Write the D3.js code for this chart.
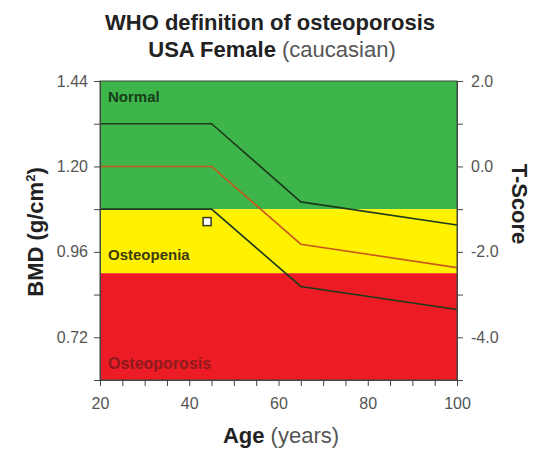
<!DOCTYPE html>
<html lang="en">
<head>
<meta charset="UTF-8">
<title>WHO definition of osteoporosis</title>
<script src="https://d3js.org/d3.v7.min.js"></script>
<style>
  body { margin: 0; background: #fff; }
  svg { display: block; font-family: "Liberation Sans", Arial, sans-serif; }
</style>
</head>
<body>
<div class="chartContainer"></div>
<script>
// Data
const ages = [20, 45, 65, 100];
const meanT = [0, 0, -1.82, -2.37];
const plusOneT = [1, 1, -0.83, -1.37];
const minusOneT = [-1, -1, -2.81, -3.35];

const zoneNames = ['Normal', 'Osteopenia', 'Osteoporosis'];
const zoneTop = [2, -1, -2.5];
const zoneBottom = [-1, -2.5, -5];
const zoneColors = ['#3db54a', '#fff200', '#ed1c24'];
const zoneTextColors = ['#173d19', '#3d3a10', '#8e1a1e'];

const patientAge = [44];
const patientBMD = [1.045];

const bmdTicks = [0.72, 0.96, 1.20, 1.44];
const bmdMinor = [0.60, 0.84, 1.08, 1.32];
const tTicks = [-4, -2, 0, 2];
const tMinor = [-5, -3, -1, 1];
const ageTicks = [20, 40, 60, 80, 100];

const width = 546, height = 451;
const plot = { left: 100, right: 457, top: 81, bottom: 380 };

const svg = d3.select('.chartContainer').append('svg')
  .attr('width', width).attr('height', height);

// 比例尺
const x = d3.scaleLinear().domain([20, 100]).range([plot.left, plot.right]);
const yT = d3.scaleLinear().domain([-5, 2]).range([plot.bottom, plot.top]);
const yBMD = d3.scaleLinear().domain([0.60, 1.44]).range([plot.bottom, plot.top]);

// 區塊
const zones = zoneNames.map((n, i) => ({ name: n, top: zoneTop[i], bottom: zoneBottom[i], color: zoneColors[i], text: zoneTextColors[i] }));
svg.append('g').selectAll('rect').data(zones).enter().append('rect')
  .attr('x', plot.left)
  .attr('width', plot.right - plot.left)
  .attr('y', d => yT(d.top))
  .attr('height', d => yT(d.bottom) - yT(d.top))
  .attr('fill', d => d.color);

const labelY = [102, 260, 369];
const labelSize = ['15px', '15px', '16px'];
svg.append('g').selectAll('text').data(zones).enter().append('text')
  .attr('x', plot.left + 8)
  .attr('y', (d, i) => labelY[i])
  .attr('fill', d => d.text)
  .style('font-weight', 'bold')
  .style('font-size', (d, i) => labelSize[i])
  .text(d => d.name);

// 線條
const line = d3.line().x(d => x(d[0])).y(d => yT(d[1]));
const series = [
  { vals: plusOneT, color: '#1e3a1c' },
  { vals: meanT, color: '#c8581c' },
  { vals: minusOneT, color: '#1e3a1c' }
];
svg.append('g').selectAll('path').data(series).enter().append('path')
  .attr('d', d => line(ages.map((a, i) => [a, d.vals[i]])))
  .attr('fill', 'none')
  .attr('stroke', d => d.color)
  .attr('stroke-width', 1.6);

// 病人
svg.selectAll('.patient').data(patientAge.map((a, i) => [a, patientBMD[i]])).enter()
  .append('rect').attr('class', 'patient')
  .attr('x', d => x(d[0]) - 4).attr('y', d => yBMD(d[1]) - 4)
  .attr('width', 8).attr('height', 8)
  .attr('fill', '#fff').attr('stroke', '#3a3a20').attr('stroke-width', 1.5);

// 外框
svg.append('rect')
  .attr('x', plot.left).attr('y', plot.top)
  .attr('width', plot.right - plot.left).attr('height', plot.bottom - plot.top)
  .attr('fill', 'none').attr('stroke', '#3a4a3a').attr('stroke-width', 1);

const tickColor = '#555';
const styleAxis = g => {
  g.select('.domain').attr('stroke', '#444');
  g.selectAll('.tick line').attr('stroke', '#444');
  g.selectAll('.tick text').attr('fill', tickColor).style('font-size', '16px').style('font-family', '"Liberation Sans", Arial, sans-serif');
};

// 左軸
svg.append('g').attr('transform', `translate(${plot.left},0)`)
  .call(d3.axisLeft(yBMD).tickValues(bmdTicks).tickFormat(d3.format('.2f')).tickSize(6).tickSizeOuter(0).tickPadding(6))
  .call(styleAxis);
svg.append('g').attr('transform', `translate(${plot.left},0)`)
  .call(d3.axisLeft(yBMD).tickValues(bmdMinor).tickFormat('').tickSize(6).tickSizeOuter(0))
  .call(styleAxis);

// 右軸
const tFormat = d => d3.format('.1f')(d).replace('−', '-');
svg.append('g').attr('transform', `translate(${plot.right},0)`)
  .call(d3.axisRight(yT).tickValues(tTicks).tickFormat(tFormat).tickSize(6).tickSizeOuter(0).tickPadding(8))
  .call(styleAxis);
svg.append('g').attr('transform', `translate(${plot.right},0)`)
  .call(d3.axisRight(yT).tickValues(tMinor).tickFormat('').tickSize(6).tickSizeOuter(0))
  .call(styleAxis);

// 下軸
svg.append('g').attr('transform', `translate(0,${plot.bottom})`)
  .call(d3.axisBottom(x).tickValues(ageTicks).tickFormat(d3.format('d')).tickSize(6).tickSizeOuter(0).tickPadding(12))
  .call(styleAxis);
svg.append('g').attr('transform', `translate(0,${plot.bottom})`)
  .call(d3.axisBottom(x).tickValues(d3.range(25, 100, 5).filter(d => d % 20 !== 0)).tickFormat('').tickSize(6).tickSizeOuter(0))
  .call(styleAxis);

// 標題
svg.append('text').attr('x', 270).attr('y', 30)
  .attr('text-anchor', 'middle').attr('fill', '#222')
  .style('font-size', '22px').style('font-weight', 'bold')
  .text('WHO definition of osteoporosis');
const sub = svg.append('text').attr('x', 272).attr('y', 57)
  .attr('text-anchor', 'middle').attr('fill', '#222').style('font-size', '22px');
sub.append('tspan').style('font-weight', 'bold').text('USA Female ');
sub.append('tspan').attr('fill', '#555').text('(caucasian)');

// 軸標題
const xl = svg.append('text').attr('x', 281).attr('y', 443)
  .attr('text-anchor', 'middle').attr('fill', '#222').style('font-size', '22px');
xl.append('tspan').style('font-weight', 'bold').text('Age ');
xl.append('tspan').attr('fill', '#555').text('(years)');

const yl = svg.append('text').attr('transform', 'translate(43,232) rotate(-90)')
  .attr('text-anchor', 'middle').attr('fill', '#222')
  .style('font-size', '22px').style('font-weight', 'bold');
yl.append('tspan').text('BMD (g/cm');
yl.append('tspan').attr('dy', -8).style('font-size', '13px').text('2');
yl.append('tspan').attr('dy', 8).text(')');

svg.append('text').attr('transform', 'translate(512,204) rotate(90)')
  .attr('text-anchor', 'middle').attr('fill', '#222')
  .style('font-size', '22px').style('font-weight', 'bold')
  .text('T-Score');
</script>
</body>
</html>
